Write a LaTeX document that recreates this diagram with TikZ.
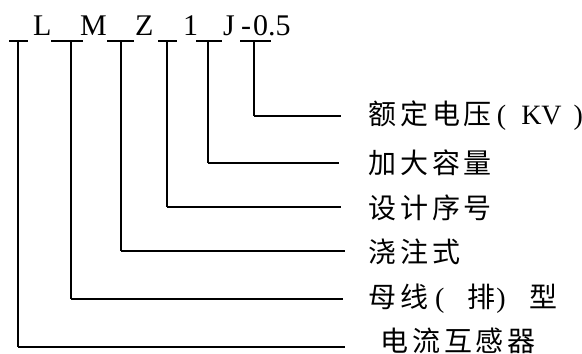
\documentclass[tikz,border=0pt]{standalone}
\usepackage{fontspec}
\setmainfont{Liberation Serif}
\newfontfamily\cjk[LetterSpace=14]{Noto Sans CJK SC}
\usetikzlibrary{positioning}

\begin{document}
\begin{tikzpicture}[x=1pt, y=-1pt,
    code/.style={font=\fontsize{30}{30}\selectfont, inner sep=0pt, anchor=base west},
    bar/.style={line width=2.7pt},
    lead/.style={line width=1.3pt},
    arm/.style={line width=2.7pt},
    meaning/.style={font=\fontsize{28}{28}\selectfont\cjk, inner sep=0pt, anchor=west}]

    \useasboundingbox (0, 0) rectangle (582, 354);

    % model code
    \node [code] (cL) at (33, 35) {L};
    \node [code] (cM) at (80, 35) {M};
    \node [code] (cZ) at (135, 35) {Z};
    \node [code] (c1) at (183, 35) {1};
    \node [code] (cJ) at (223, 35) {J};
    \node [code] (cminus) at (241, 35) {-};
    \node [code] (cV) at (253, 35) {0.5};

    % underscores below the positions
    \foreach \l/\r/\x [count=\i] in {9/28/18, 51/83/71, 107/134/121,
        158/177/167, 196/222/208, 240/271/254} {
      \draw [bar] (\l, 41) -- (\r, 41);
      \coordinate (b\i) at (\x, 42);
    }

    % meanings
    \node [meaning] (m1) at (368, 116)
      {额定电压{\rmfamily\kern5pt(\kern15pt KV\kern12pt)}};
    \node [meaning] (m2) at (368, 163) {加大容量};
    \node [meaning] (m3) at (368, 208) {设计序号};
    \node [meaning] (m4) at (368, 252) {浇注式};
    \node [meaning] (m5) at (368, 299)
      {母线{\rmfamily\kern7pt(\kern23pt}排{\rmfamily\kern1pt)\kern24pt}型};
    \node [meaning] (m6) at (380, 341) {电流互感器};

    % leaders
    \draw [lead] (b6) -- (b6 |- m1);
    \draw [arm, shorten >=27pt] (b6 |- m1) -- (m1.west);

    \draw [lead] (b5) -- (b5 |- m2);
    \draw [arm, shorten >=29pt] (b5 |- m2) -- (m2.west);

    \draw [lead] (b4) -- (b4 |- 0, 207);
    \draw [arm, shorten >=27pt] (b4 |- 0, 207) -- (m3.west |- 0, 207);

    \draw [lead] (b3) -- (b3 |- 0, 251);
    \draw [arm, shorten >=23pt] (b3 |- 0, 251) -- (m4.west |- 0, 251);

    \draw [lead] (b2) -- (b2 |- m5);
    \draw [arm, shorten >=25pt] (b2 |- m5) -- (m5.west);

    \draw [lead] (b1) -- (b1 |- 0, 347);
    \draw [arm, shorten >=35pt] (b1 |- 0, 347) -- (m6.west |- 0, 347);

  \end{tikzpicture}
\end{document}
